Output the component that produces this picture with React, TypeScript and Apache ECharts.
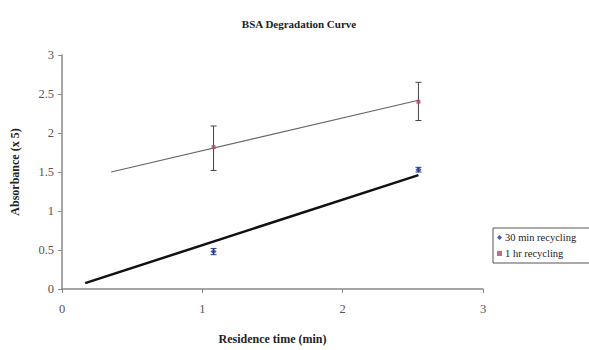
import React, { useEffect, useRef } from "react";
import * as echarts from "echarts";

const title = "BSA Degradation Curve";
const xName = "Residence time (min)";
const yName = "Absorbance (x 5)";
const seriesNames = ["30 min recycling", "1 hr recycling"];

// [x, y, low, high]
const pts30: number[][] = [
  [1.08, 0.48, 0.44, 0.52],
  [2.54, 1.53, 1.5, 1.56],
];
const pts1h: number[][] = [
  [1.08, 1.82, 1.52, 2.09],
  [2.54, 2.4, 2.16, 2.65],
];
const trend30: number[][] = [
  [0.165, 0.075],
  [2.54, 1.46],
];
const trend1h: number[][] = [
  [0.35, 1.5],
  [2.54, 2.42],
];

const serif = "Liberation Serif";

function errorBars(data: number[][], color: string) {
  return {
    type: "custom",
    silent: true,
    z: 3,
    data: data.map((d) => [d[0], d[2], d[3]]),
    renderItem: (params: any, api: any) => {
      const x = api.value(0);
      const lo = api.coord([x, api.value(1)]);
      const hi = api.coord([x, api.value(2)]);
      const w = 3;
      const style = { stroke: color, lineWidth: 1 };
      return {
        type: "group",
        children: [
          { type: "line", shape: { x1: lo[0], y1: lo[1], x2: hi[0], y2: hi[1] }, style },
          { type: "line", shape: { x1: lo[0] - w, y1: lo[1], x2: lo[0] + w, y2: lo[1] }, style },
          { type: "line", shape: { x1: hi[0] - w, y1: hi[1], x2: hi[0] + w, y2: hi[1] }, style },
        ],
      };
    },
  };
}

export default function App() {
  const ref = useRef<HTMLDivElement>(null);
  useEffect(() => {
    const chart = echarts.init(ref.current!, undefined, { renderer: "svg" });
    chart.setOption({
      animation: false,
      backgroundColor: "#fff",
      title: {
        text: title,
        left: 294,
        textAlign: "center",
        top: 13,
        textStyle: { fontFamily: serif, fontSize: 11, fontWeight: "bold", color: "#222" },
      },
      legend: {
        orient: "vertical",
        left: 493,
        top: 228,
        data: [
          { name: seriesNames[0], icon: "diamond" },
          { name: seriesNames[1], icon: "rect" },
        ],
        itemWidth: 5,
        itemHeight: 5,
        itemGap: 5,
        padding: [4, 30, 4, 4],
        borderColor: "#555",
        borderWidth: 1,
        textStyle: { fontFamily: serif, fontSize: 10.5, color: "#222", padding: [0, 0, 0, -2] },
      },
      grid: { left: 62, right: 106, top: 55, bottom: 59 },
      xAxis: {
        type: "value",
        min: 0,
        max: 3,
        interval: 1,
        name: xName,
        nameLocation: "middle",
        nameGap: 44,
        nameTextStyle: { fontFamily: serif, fontSize: 12, fontWeight: "bold", color: "#222" },
        splitLine: { show: false },
        axisLine: { lineStyle: { color: "#888", width: 1.5 } },
        axisTick: { show: true, length: 4, lineStyle: { color: "#888" } },
        axisLabel: { fontFamily: serif, fontSize: 12.5, color: "#555", margin: 13 },
      },
      yAxis: {
        type: "value",
        min: 0,
        max: 3,
        interval: 0.5,
        name: yName,
        nameLocation: "middle",
        nameGap: 41,
        nameTextStyle: { fontFamily: serif, fontSize: 12, fontWeight: "bold", color: "#222" },
        splitLine: { show: false },
        axisLine: { show: true, lineStyle: { color: "#888", width: 1.5 } },
        axisTick: { show: true, length: 4, lineStyle: { color: "#888" } },
        axisLabel: { fontFamily: serif, fontSize: 12.5, color: "#555", margin: 8 },
      },
      series: [
        {
          type: "line",
          silent: true,
          data: trend30,
          symbol: "none",
          lineStyle: { color: "#111", width: 2.5 },
          z: 2,
        },
        {
          type: "line",
          silent: true,
          data: trend1h,
          symbol: "none",
          lineStyle: { color: "#666", width: 1.2 },
          z: 2,
        },
        errorBars(pts30, "#2a3a8a"),
        errorBars(pts1h, "#444"),
        {
          name: seriesNames[0],
          type: "scatter",
          symbol: "diamond",
          symbolSize: 6,
          itemStyle: { color: "#1f3590" },
          data: pts30.map((d) => [d[0], d[1]]),
          z: 4,
        },
        {
          name: seriesNames[1],
          type: "scatter",
          symbol: "rect",
          symbolSize: 4,
          itemStyle: { color: "#b0487a" },
          data: pts1h.map((d) => [d[0], d[1]]),
          z: 4,
        },
      ],
    });
    return () => chart.dispose();
  }, []);
  return <div ref={ref} style={{ width: 589, height: 350, position: "absolute", left: 0, top: 0 }} />;
}
